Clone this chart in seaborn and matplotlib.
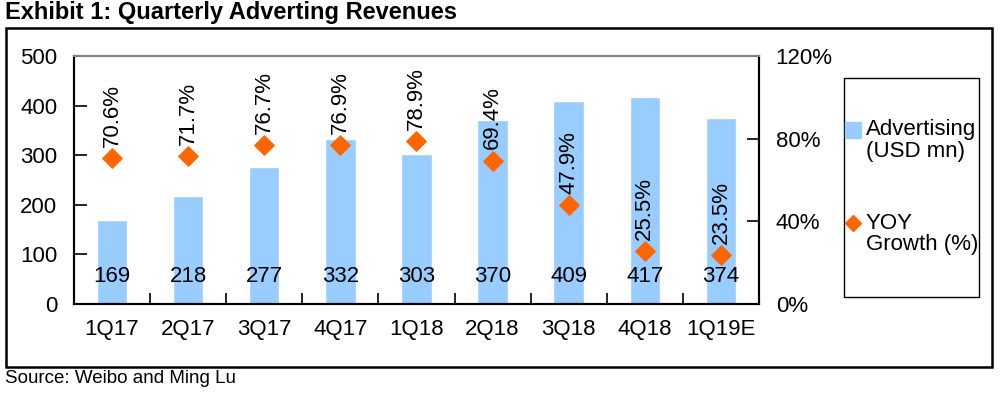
import matplotlib
matplotlib.use("Agg")
import matplotlib.pyplot as plt
import seaborn as sns
import pandas as pd
from matplotlib.lines import Line2D
from matplotlib.patches import Rectangle

quarters = ["1Q17", "2Q17", "3Q17", "4Q17", "1Q18", "2Q18", "3Q18", "4Q18", "1Q19E"]
advertising = [169, 218, 277, 332, 303, 370, 409, 417, 374]
yoy_growth = [70.6, 71.7, 76.7, 76.9, 78.9, 69.4, 47.9, 25.5, 23.5]
legend_labels = ["Advertising\n(USD mn)", "YOY\nGrowth (%)"]

BAR_C = "#99CCFF"
DOT_C = "#FF6600"
FS = 16

sns.set_theme(style="white")
plt.rcParams["font.family"] = ["Liberation Sans", "DejaVu Sans"]

df = pd.DataFrame({"q": quarters, "adv": advertising, "yoy": yoy_growth})

fig = plt.figure(figsize=(10, 3.93), dpi=100)
ax = fig.add_axes([0.074, 0.2265, 0.685, 0.631])

sns.barplot(data=df, x="q", y="adv", color=BAR_C, width=0.4, saturation=1, ax=ax, zorder=2)
ax.set_ylim(0, 500)
ax.set_yticks(range(0, 501, 100))
ax.set_xlim(-0.5, len(quarters) - 0.5)
ax.set_xlabel("")
ax.set_ylabel("")

for i, v in enumerate(advertising):
    ax.text(i, 55, str(v), ha="center", va="center", fontsize=FS, color="black", zorder=5)

ax2 = ax.twinx()
sns.scatterplot(data=df, x="q", y="yoy", marker="D", s=100, color=DOT_C, edgecolor=DOT_C, ax=ax2, zorder=4, legend=False)
ax2.set_ylim(0, 120)
ax2.set_yticks([0, 40, 80, 120])
ax2.set_yticklabels(["0%", "40%", "80%", "120%"])
ax2.set_ylabel("")
ax2.set_xlim(-0.5, len(quarters) - 0.5)

for i, v in enumerate(yoy_growth):
    ax2.annotate(f"{v:.1f}%", (i, v), xytext=(0, 8), textcoords="offset points",
                 rotation=90, ha="center", va="bottom", fontsize=FS, color="black", zorder=5)

ax.set_xticks(range(len(quarters)))
ax.set_xticklabels(quarters)
ax.set_xticks([i + 0.5 for i in range(len(quarters) - 1)], minor=True)
ax.tick_params(axis="x", which="major", length=0, pad=11, labelsize=FS, colors="black")
ax.tick_params(axis="x", which="minor", length=8, direction="in", width=1.2, color="black", bottom=True)
ax.tick_params(axis="y", which="major", length=9, direction="in", width=1.2, color="black", pad=12, labelsize=FS, labelcolor="black")
ax2.tick_params(axis="y", which="major", length=9, direction="in", width=1.2, color="black", pad=12, labelsize=FS, labelcolor="black")

for a in (ax, ax2):
    for s in ["left", "bottom", "right"]:
        a.spines[s].set_visible(True)
        a.spines[s].set_color("black")
        a.spines[s].set_linewidth(1.5)
    a.spines["top"].set_visible(True)
    a.spines["top"].set_color("#808080")
    a.spines["top"].set_linewidth(1.5)
    a.grid(False)

# outer frame
fig.patches.append(Rectangle((0.006, 0.066), 0.986, 0.862, transform=fig.transFigure,
                             fill=False, edgecolor="black", linewidth=1.8))
# legend frame
fig.patches.append(Rectangle((0.844, 0.244), 0.135, 0.5575, transform=fig.transFigure,
                             fill=False, edgecolor="black", linewidth=1.0))

# legend entries (handle aligned with first text line, as in reference)
fig.add_artist(Line2D([0.853], [0.669], marker="s", linestyle="none", markersize=11,
                      color=BAR_C, transform=fig.transFigure))
fig.add_artist(Line2D([0.853], [0.4326], marker="D", linestyle="none", markersize=8,
                      color=DOT_C, transform=fig.transFigure))
fig.text(0.866, 0.6425, legend_labels[0], ha="left", va="center", fontsize=FS, linespacing=1.05, color="black")
fig.text(0.866, 0.4046, legend_labels[1], ha="left", va="center", fontsize=FS, linespacing=1.05, color="black")

fig.text(0.005, 0.997, "Exhibit 1: Quarterly Adverting Revenues", ha="left", va="top",
         fontsize=17, fontweight="bold", color="black")
fig.text(0.005, 0.058, "Source: Weibo and Ming Lu", ha="left", va="top", fontsize=13.5, color="black")

fig.savefig("out.png", dpi=100)
